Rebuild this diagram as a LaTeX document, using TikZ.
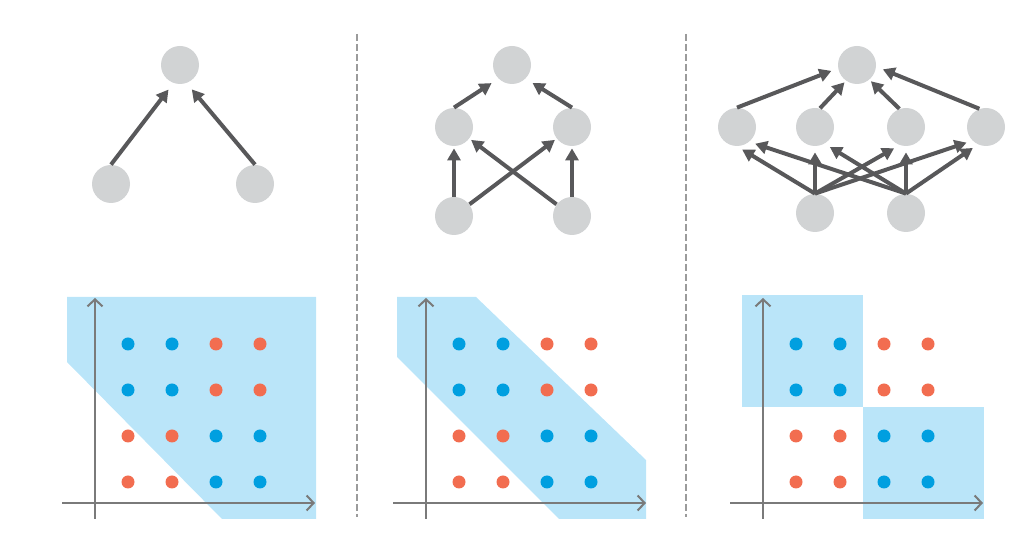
\documentclass[tikz,border=0pt]{standalone}
\usepackage{tikz}
\usetikzlibrary{arrows.meta}
\usepackage{xcolor}
\definecolor{NodeGray}{RGB}{209,211,212}
\definecolor{ArrowGray}{RGB}{88,88,90}
\definecolor{AxisGray}{RGB}{122,122,122}
\definecolor{SepGray}{RGB}{155,155,155}
\definecolor{RegionBlue}{RGB}{186,229,249}
\definecolor{DotBlue}{RGB}{0,159,224}
\definecolor{DotRed}{RGB}{242,109,80}

\begin{document}
\begin{tikzpicture}[
    x=0.5pt, y=-0.5pt,
    gnode/.style={circle, fill=NodeGray, minimum size=19pt, inner sep=0pt},
    arr/.style={draw=ArrowGray, line width=2pt, -{Triangle[length=6pt,width=6.5pt]}, shorten >=3pt},
    axis/.style={draw=AxisGray, line width=1pt, -{Straight Barb[length=3.5pt,width=7.5pt]}},
    sep/.style={draw=SepGray, line width=1pt, dash pattern=on 3.5pt off 1.5pt},
    region/.style={fill=RegionBlue},
    bluept/.style={fill=DotBlue},
    redpt/.style={fill=DotRed},
]
\useasboundingbox (0,0) rectangle (1035,539);

\draw[sep] (357,34) -- (357,517);
\draw[sep] (686,34) -- (686,517);

\node[gnode] (at) at (180,65) {};
\node[gnode] (al) at (111,184) {};
\node[gnode] (ar) at (255,184) {};
\draw[arr, shorten >=4pt] (al.north) -- (at.-110);
\draw[arr, shorten >=4pt] (ar.north) -- (at.-70);

\node[gnode] (bt) at (512,65) {};
\node[gnode] (bml) at (454,127) {};
\node[gnode] (bmr) at (572,127) {};
\node[gnode] (bbl) at (454,216) {};
\node[gnode] (bbr) at (572,216) {};
\draw[arr, shorten >=4pt] (bml.north) -- (bt.-135);
\draw[arr, shorten >=4pt] (bmr.north) -- (bt.-45);
\draw[arr, shorten >=1pt] (bbl) -- (bml);
\draw[arr, shorten >=1pt] (bbr) -- (bmr);
\draw[arr, shorten >=1pt] (bbl) -- (bmr);
\draw[arr, shorten >=1pt] (bbr) -- (bml);

\node[gnode] (ct) at (857,65) {};
\node[gnode] (c1) at (737,127) {};
\node[gnode] (c2) at (815,127) {};
\node[gnode] (c3) at (906,127) {};
\node[gnode] (c4) at (986,127) {};
\node[gnode] (cb1) at (815,213) {};
\node[gnode] (cb2) at (906,213) {};
\draw[arr, shorten >=3.5pt] (c1.north) -- (ct.190);
\draw[arr, shorten >=1pt] (c2.75) -- (ct.-125);
\draw[arr, shorten >=1pt] (c3.110) -- (ct.-50);
\draw[arr, shorten >=3.5pt] (c4.110) -- (ct.-5);
\draw[arr] (cb1.north) -- (c1.south);
\draw[arr] (cb1.north) -- (c2.south);
\draw[arr] (cb1.north) -- (c3.-110);
\draw[arr] (cb1.north) -- (c4.-135);
\draw[arr] (cb2.north) -- (c1.-50);
\draw[arr] (cb2.north) -- (c2.-60);
\draw[arr] (cb2.north) -- (c3.south);
\draw[arr] (cb2.north) -- (c4.-115);

\fill[region] (67,297) -- (316,297) -- (316,519) -- (222,519) -- (67,362) -- cycle;
\fill[region] (397,297) -- (476,297) -- (646,460) -- (646,519) -- (559,519) -- (397,357) -- cycle;
\fill[region] (742,295) rectangle (863,407);
\fill[region] (863,407) rectangle (984,519);

\foreach \ox in {95,426,763} {
  \draw[axis] (\ox-33,503) -- (\ox+220,503);
  \draw[axis] (\ox,519) -- (\ox,298);
  \foreach \i in {0,1} \foreach \j in {0,1} {
    \fill[bluept] (\ox+33+44*\i,344+46*\j) circle[radius=3.25pt];
    \fill[redpt] (\ox+121+44*\i,344+46*\j) circle[radius=3.25pt];
    \fill[redpt] (\ox+33+44*\i,436+46*\j) circle[radius=3.25pt];
    \fill[bluept] (\ox+121+44*\i,436+46*\j) circle[radius=3.25pt];
  }
}
\end{tikzpicture}
\end{document}
